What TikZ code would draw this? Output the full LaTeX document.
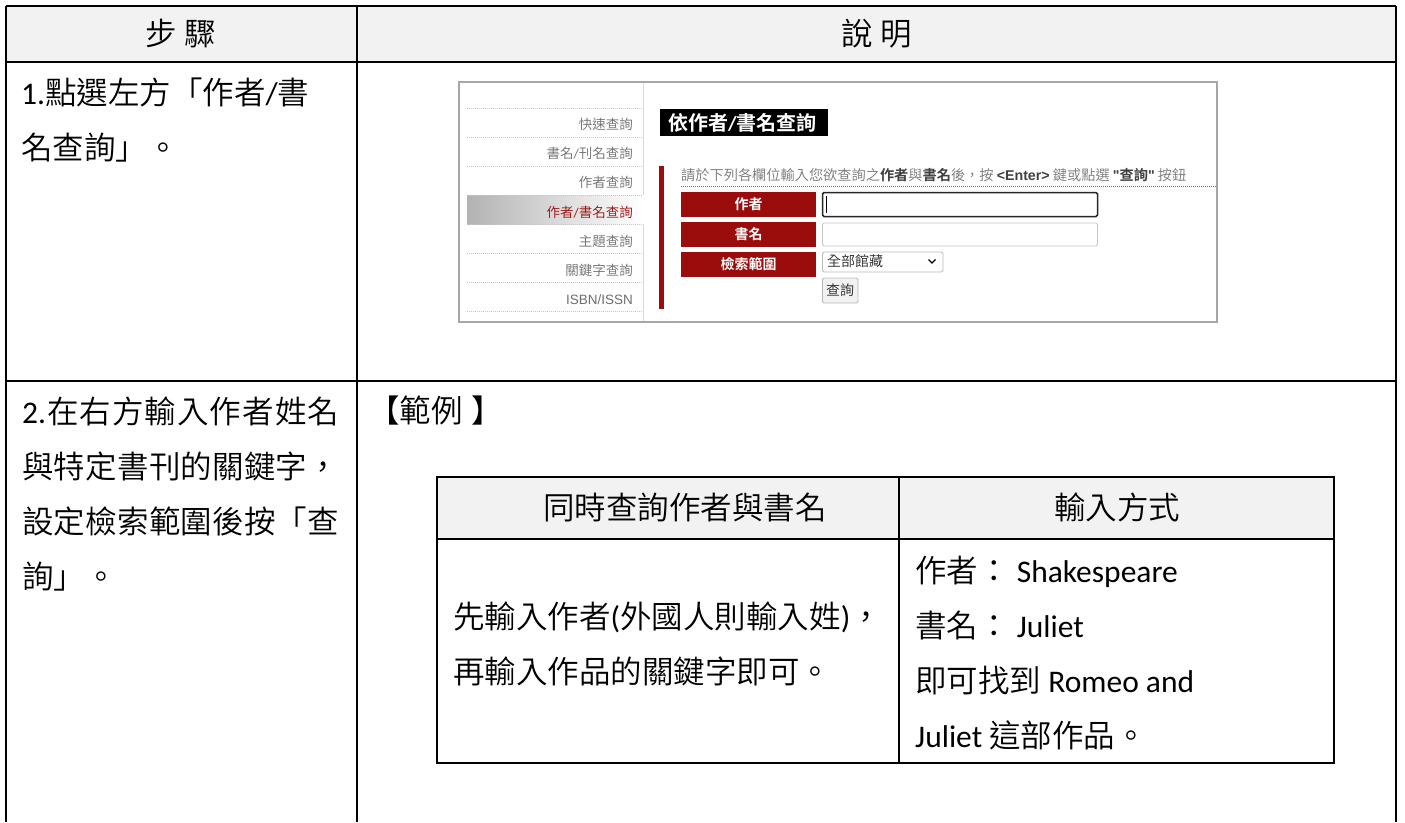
\documentclass[tikz,border=0pt]{standalone}
\usepackage{fontspec}
\setmainfont{Carlito}
\newfontfamily\cjk{Noto Sans CJK TC}[Script=CJK, Language=Chinese Traditional, UprightFont={* DemiLight}, BoldFont={* Bold}]
\newfontfamily\arialf{Liberation Sans}
\definecolor{webred}{RGB}{155,12,12}
\definecolor{hdrgray}{RGB}{242,242,242}
\definecolor{sidegray}{RGB}{110,110,110}
\definecolor{instgray}{RGB}{120,120,120}
\makeatletter
\newcommand\spreadcjk[1]{\@tfor\@tempa:=#1\do{\hfil{\cjk\@tempa}}}
\makeatother
\begin{document}
\begin{tikzpicture}[x=1pt,y=-1pt,
  tbl/.style={line width=2.2pt, black},
  big/.style={inner sep=0pt, font=\fontsize{31.5}{36}\selectfont},
  web/.style={inner sep=0pt, font=\fontsize{13.5}{16}\selectfont},
  side/.style={web, text=sidegray, anchor=base east},
  sep/.style={gray!45, line width=0.6pt, dash pattern=on 1pt off 1pt},
  lab/.style={fill=webred, draw=none},
  labtxt/.style={web, text=white, font=\fontsize{14}{16}\selectfont\bfseries},
]
\useasboundingbox (0,0) rectangle (1405,822);
\fill[white] (0,0) rectangle (1405,822);

% ---------- outer table ----------
\fill[hdrgray] (6,6) rectangle (1396,62);
\draw[tbl] (6,6) -- (1396,6);
\draw[tbl] (6,62) -- (1396,62);
\draw[tbl] (6,381) -- (1396,381);
\draw[tbl] (6,6) -- (6,822);
\draw[tbl] (357,6) -- (357,822);
\draw[tbl] (1396,6) -- (1396,822);

\node[big, anchor=base] (h1) at (181,45) {\cjk 步 驟};
\node[big, anchor=base] (h2) at (877,45) {\cjk 說 明};

% row 1 text
\node[big, anchor=base west] (r1a) at (21,104) {1.{\cjk 點選左方「作者}/{\cjk 書}};
\node[big, anchor=base west] (r1b) at (21,159) {\cjk 名查詢」。};

% row 2 text
\node[big, anchor=base west] (r2a) at (22,423) {\makebox[317pt][s]{2.\spreadcjk{在右方輸入作者姓名}}};
\node[big, anchor=base west] (r2b) at (22,478) {\makebox[317pt][s]{{\cjk 與}\spreadcjk{特定書刊的關鍵字，}}};
\node[big, anchor=base west] (r2c) at (22,533) {\makebox[317pt][s]{{\cjk 設}\spreadcjk{定檢索範圍後按「查}}};
\node[big, anchor=base west] (r2d) at (22,588) {\cjk 詢」。};

\node[big, anchor=base west] (ex) at (368,422) {{\cjk 【範例}\kern9pt{\cjk 】}};

% ---------- inner example table ----------
\fill[hdrgray] (437,477) rectangle (1334,539);
\draw[line width=2pt] (437,477) rectangle (1334,763);
\draw[line width=2pt] (437,539) -- (1334,539);
\draw[line width=2pt] (899,477) -- (899,763);

\node[big, anchor=base] (ih1) at (685,519) {\cjk 同時查詢作者與書名};
\node[big, anchor=base] (ih2) at (1117,519) {\cjk 輸入方式};

\node[big, anchor=base west] (il1) at (453,628) {{\cjk 先輸入作者}({\cjk 外國人則輸入姓}){\cjk ，}};
\node[big, anchor=base west] (il2) at (453,683) {\cjk 再輸入作品的關鍵字即可。};

\node[big, anchor=base west] (ir1) at (915,582) {{\cjk 作者：} Shakespeare};
\node[big, anchor=base west] (ir2) at (915,637) {{\cjk 書名：} Juliet};
\node[big, anchor=base west] (ir3) at (915,692) {{\cjk 即可找到} Romeo and};
\node[big, anchor=base west] (ir4) at (915,747) {Juliet {\cjk 這部作品。}};

% ---------- screenshot ----------
\fill[white] (459,82) rectangle (1217,322);
% sidebar highlight
\shade[left color=gray!60, right color=white] (467,195) rectangle (643,224);
\foreach \yy in {108,137,166,195,224,253,282,311}
  \draw[sep] (467,\yy) -- (643,\yy);
\draw[gray!30, line width=0.8pt] (643,82) -- (643,195);
\draw[gray!30, line width=0.8pt] (643,224) -- (643,322);

\node[side] (s1) at (633,129) {\cjk 快速查詢};
\node[side] (s2) at (633,158) {{\cjk 書名}/{\cjk 刊名查詢}};
\node[side] (s3) at (633,187) {\cjk 作者查詢};
\node[side, text=webred] (s4) at (633,217) {{\cjk 作者}/{\cjk 書名查詢}};
\node[side] (s5) at (633,246) {\cjk 主題查詢};
\node[side] (s6) at (633,275) {\cjk 關鍵字查詢};
\node[side] (s7) at (633,304) {\arialf ISBN/ISSN};

% title
\fill[black] (660,109) rectangle (828,136);
\node[web, text=white, anchor=base west, font=\fontsize{20}{22}\selectfont\bfseries] (title) at (668,130) {{\cjk 依作者}/{\cjk 書名查詢}};

% red bar
\fill[webred] (659,166) rectangle (664,309);

% instruction
\node[web, text=instgray, anchor=base west, font=\fontsize{14.2}{16}\selectfont] (inst) at (681,180)
  {{\cjk 請於下列各欄位輸入您欲查詢之}{\cjk\bfseries\color{black!75}作者}{\cjk 與}{\cjk\bfseries\color{black!75}書名}{\cjk 後，按} {\arialf\bfseries\color{black!75}<Enter>} {\cjk 鍵或點選} {\arialf\bfseries\color{black!75}"{\cjk 查詢}"} {\cjk 按鈕}};
\draw[webred!70, line width=0.6pt, dash pattern=on 1pt off 1pt] (681,186) -- (1216,186);

% labels
\fill[lab] (681,192) rectangle (816,217);
\fill[lab] (681,222) rectangle (816,247);
\fill[lab] (681,252) rectangle (816,277);
\node[labtxt] (l1) at (748.5,204.5) {\cjk 作者};
\node[labtxt] (l2) at (748.5,234.5) {\cjk 書名};
\node[labtxt] (l3) at (748.5,264.5) {\cjk 檢索範圍};

% inputs
\draw[black!85, line width=1.5pt, rounded corners=1.5pt] (822.5,192.5) rectangle (1097.5,216.5);
\draw[black, line width=0.7pt] (826,196) -- (826,213);
\draw[gray!45, line width=0.8pt, rounded corners=1.5pt] (822.5,223) rectangle (1097.5,246);
\draw[gray!55, line width=0.8pt, rounded corners=1.5pt] (822.5,252) rectangle (943,272);
\node[web, anchor=base west, text=black!85, font=\fontsize{14}{16}\selectfont] (sel) at (827,266) {\cjk 全部館藏};
\draw[black, line width=1.2pt] (928.5,259.5) -- (932,263) -- (935.5,259.5);
\draw[gray!55, line width=0.8pt, fill=gray!10, rounded corners=1.5pt] (822.5,278) rectangle (858,303);
\node[web, text=black!85, font=\fontsize{14}{16}\selectfont] (btn) at (840,290.5) {\cjk 查詢};

% frame
\draw[gray!70, line width=1.6pt] (459,82) rectangle (1217,322);
\end{tikzpicture}
\end{document}
